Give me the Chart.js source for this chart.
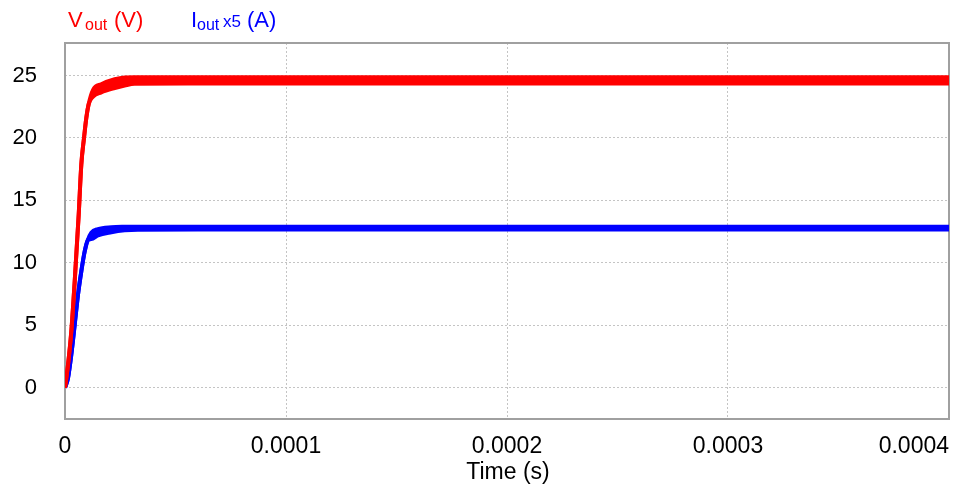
<!DOCTYPE html>
<html>
<head>
<meta charset="utf-8">
<script src="https://cdn.jsdelivr.net/npm/chart.js@4/dist/chart.umd.min.js"></script>
<style>
  html, body { margin: 0; padding: 0; background: #fff; }
  #wrap { width: 954px; height: 492px; }
</style>
</head>
<body>
<div id="wrap"><canvas id="c" width="954" height="492"></canvas></div>
<script>
// ---- Data ----
// Output voltage (ripple band: upper / lower envelope), time in microseconds
const vTimeUs  = [0, 1.36, 2.85, 4.39, 6.2, 7.38, 8.6, 9.64, 10.7, 12.7, 16.4, 22.5, 27, 31.5, 60, 100, 200, 300, 400];
const vUpper   = [0, 1.84, 4.51, 8.52, 13.86, 17.87, 20.0, 21.6, 22.7, 23.85, 24.3, 24.7, 24.84, 24.86, 24.86, 24.86, 24.86, 24.86, 24.86];
const vLower   = [0, 1.84, 4.51, 8.52, 13.86, 17.87, 20.0, 21.6, 22.7, 23.3, 23.65, 24.0, 24.2, 24.34, 24.36, 24.36, 24.36, 24.36, 24.36];
// Output current x5 (ripple band: upper / lower envelope)
const iTimeUs  = [0, 1.36, 2.85, 4.39, 5.88, 7.38, 8.91, 10.4, 11.9, 14.9, 21, 27, 33, 60, 100, 200, 300, 400];
const iUpper   = [0, 0.78, 2.64, 5.05, 7.45, 9.32, 10.92, 11.86, 12.42, 12.7, 12.85, 12.89, 12.9, 12.9, 12.9, 12.9, 12.9, 12.9];
const iLower   = [0, 0.78, 2.64, 5.05, 7.45, 9.32, 10.92, 11.86, 11.9, 12.2, 12.45, 12.6, 12.66, 12.68, 12.68, 12.68, 12.68, 12.68];

// Axis ticks
const xTickValues = [0, 0.0001, 0.0002, 0.0003, 0.0004];
const xTickLabels = ["0", "0.0001", "0.0002", "0.0003", "0.0004"];
const yTickValues = [0, 5, 10, 15, 20, 25];
const xTitle = "Time (s)";

const RED = '#ff0000', BLUE = '#0000ff';
const FONT = '"Liberation Sans", Arial, Helvetica, sans-serif';

const pts = (ts, vs) => ts.map((t, k) => ({ x: t / 1e6, y: vs[k] }));

const lineDefaults = {
  pointRadius: 0, borderWidth: 4, cubicInterpolationMode: 'monotone', spanGaps: true
};

const framePlugin = {
  id: 'frame',
  beforeDatasetsDraw(chart) {
    const { ctx, chartArea: ca } = chart;
    ctx.save();
    ctx.strokeStyle = '#a0a0a0';
    ctx.lineWidth = 2;
    ctx.strokeRect(ca.left, ca.top, ca.right - ca.left, ca.bottom - ca.top);
    ctx.restore();
  },
  afterDraw(chart) {
    const { ctx, chartArea: ca } = chart;
    const xs = chart.scales.x;
    ctx.save();
    ctx.fillStyle = '#000';
    ctx.font = '23px ' + FONT;
    ctx.textBaseline = 'alphabetic';
    xTickValues.forEach((v, i) => {
      const last = i === xTickValues.length - 1;
      ctx.textAlign = last ? 'right' : 'center';
      ctx.fillText(xTickLabels[i], last ? ca.right : xs.getPixelForValue(v), 453);
    });
    ctx.textAlign = 'center';
    ctx.fillText(xTitle, (ca.left + ca.right) / 2 + 1, 479);

    // Legend with subscripts
    ctx.textAlign = 'left';
    const main = '22px ' + FONT, sub = '16px ' + FONT, mid = '17px ' + FONT;
    ctx.fillStyle = RED;
    ctx.font = main; ctx.fillText('V', 68, 27);
    ctx.font = sub;  ctx.fillText('out', 85, 30);
    ctx.font = main; ctx.fillText('(V)', 114, 27);
    ctx.fillStyle = BLUE;
    ctx.font = main; ctx.fillText('I', 191, 27);
    ctx.font = sub;  ctx.fillText('out', 197, 30);
    ctx.font = mid;  ctx.fillText('x5', 223, 27);
    ctx.font = main; ctx.fillText('(A)', 247, 27);
    ctx.restore();
  }
};

new Chart(document.getElementById('c'), {
  type: 'line',
  data: {
    datasets: [
      Object.assign({ label: 'Vout max', data: pts(vTimeUs, vUpper), borderColor: RED, backgroundColor: RED, fill: false }, lineDefaults),
      Object.assign({ label: 'Vout min', data: pts(vTimeUs, vLower), borderColor: RED, backgroundColor: RED, fill: '-1' }, lineDefaults),
      Object.assign({ label: 'Iout max', data: pts(iTimeUs, iUpper), borderColor: BLUE, backgroundColor: BLUE, fill: false }, lineDefaults),
      Object.assign({ label: 'Iout min', data: pts(iTimeUs, iLower), borderColor: BLUE, backgroundColor: BLUE, fill: '-1' }, lineDefaults)
    ]
  },
  options: {
    responsive: false,
    animation: false,
    events: [],
    layout: { padding: { top: 43, right: 5, left: 0, bottom: 0 } },
    plugins: { legend: { display: false }, tooltip: { enabled: false } },
    scales: {
      x: {
        type: 'linear', min: 0, max: 0.0004,
        ticks: { display: false },
        grid: { color: '#c4c4c4', lineWidth: 1, drawTicks: false },
        border: { display: false, dash: [2, 2] },
        afterBuildTicks: s => { s.ticks = xTickValues.map(v => ({ value: v })); },
        afterFit: s => { s.height = 73; }
      },
      y: {
        type: 'linear', min: -2.5, max: 27.6,
        ticks: { color: '#000', font: { size: 22, family: FONT }, padding: 28 },
        grid: { color: '#c4c4c4', lineWidth: 1, drawTicks: false },
        border: { display: false, dash: [2, 2] },
        afterBuildTicks: s => { s.ticks = yTickValues.map(v => ({ value: v })); },
        afterFit: s => { s.width = 65; }
      }
    }
  },
  plugins: [framePlugin]
});
</script>
</body>
</html>
